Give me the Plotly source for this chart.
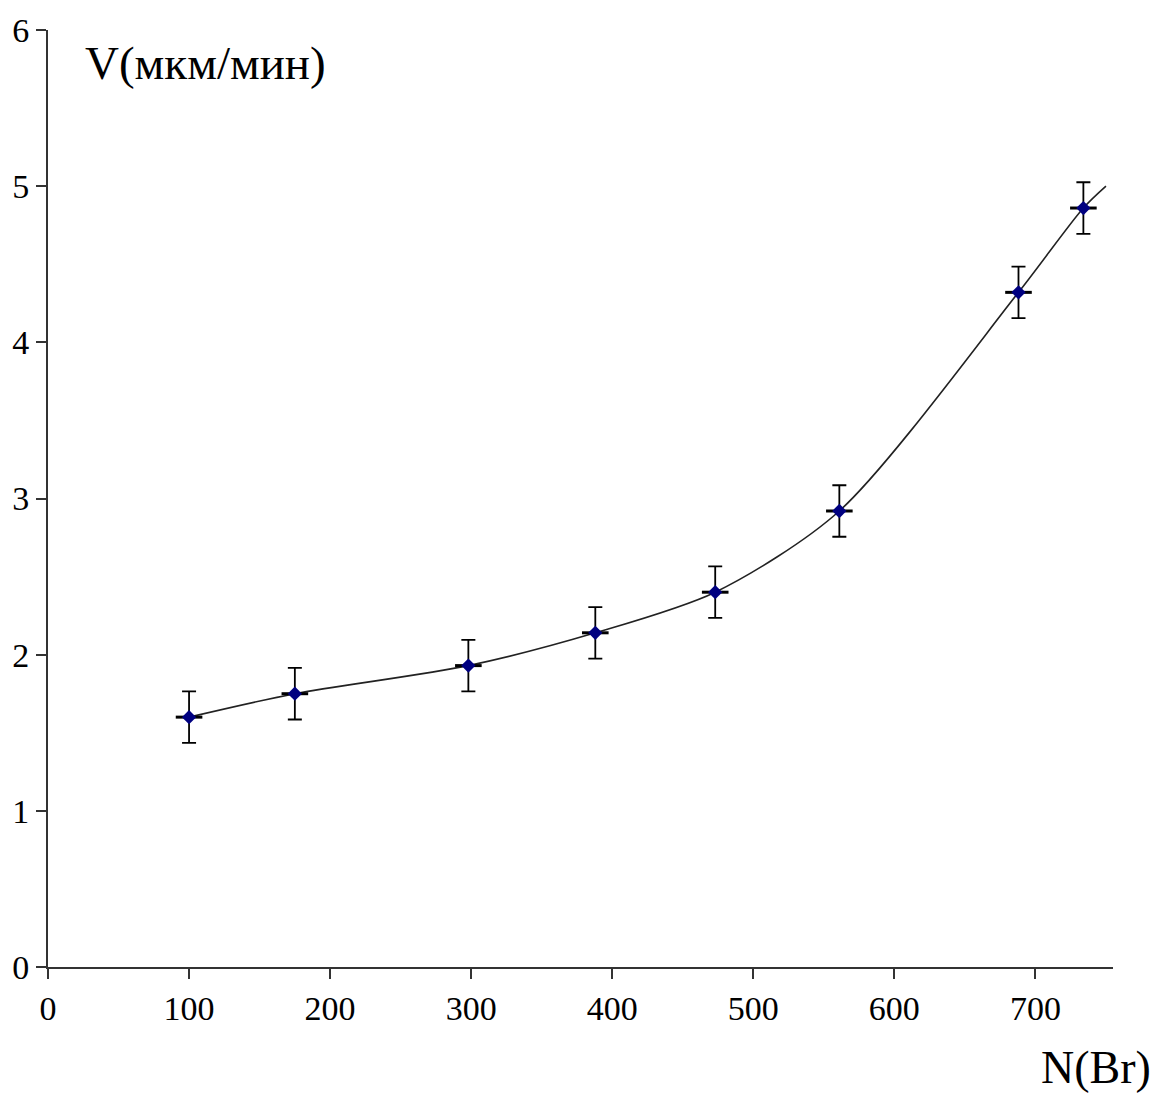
import plotly.graph_objects as go

# Measured deposition rate vs bromine count
n_br = [100, 175, 298, 388, 473, 561, 688, 734]
rate = [1.60, 1.75, 1.93, 2.14, 2.40, 2.92, 4.32, 4.86]
rate_err = [0.165] * len(n_br)

# Smoothed trend curve (data points plus its continuation to N = 750)
curve_n = n_br + [750]
curve_v = rate + [5.00]

x_ticks = [0, 100, 200, 300, 400, 500, 600, 700]
y_ticks = [0, 1, 2, 3, 4, 5, 6]

serif = "Liberation Serif, Times New Roman, serif"
axis_col = "#333333"

fig = go.Figure()

fig.add_trace(go.Scatter(
    x=curve_n, y=curve_v, mode="lines",
    line=dict(color="#222222", width=1.6, shape="spline", smoothing=0.8),
    hoverinfo="skip", showlegend=False,
))

# Horizontal dash through each point
fig.add_trace(go.Scatter(
    x=n_br, y=rate, mode="markers",
    marker=dict(symbol="line-ew", size=19, line=dict(color="black", width=3)),
    showlegend=False,
))

# Points with vertical error bars
fig.add_trace(go.Scatter(
    x=n_br, y=rate, mode="markers",
    marker=dict(symbol="diamond", size=11, color="#000080"),
    error_y=dict(type="data", array=rate_err, visible=True,
                 color="black", thickness=1.8, width=7),
    showlegend=False,
))

fig.update_layout(
    width=1160, height=1095,
    margin=dict(l=47, r=47, t=24, b=128),
    paper_bgcolor="white", plot_bgcolor="white",
    font=dict(family=serif, color="black", size=34),
    xaxis=dict(
        range=[0, 755], tickvals=x_ticks, ticktext=[str(v) for v in x_ticks],
        showgrid=False, zeroline=False,
        showline=True, linecolor=axis_col, linewidth=2,
        ticks="outside", ticklen=10, tickwidth=2, tickcolor=axis_col,
        tickfont=dict(family=serif, size=34),
    ),
    yaxis=dict(
        range=[0, 6], tickvals=y_ticks, ticktext=[str(v) for v in y_ticks],
        showgrid=False, zeroline=False,
        showline=True, linecolor=axis_col, linewidth=2,
        ticks="outside", ticklen=10, tickwidth=2, tickcolor=axis_col,
        tickfont=dict(family=serif, size=34),
    ),
    annotations=[
        dict(text="V(мкм/мин)", xref="paper", yref="paper",
             x=0.0326, y=0.9646, xanchor="left", yanchor="middle",
             showarrow=False, font=dict(family=serif, size=47)),
        dict(text="N(Br)", xref="paper", yref="paper",
             x=1.0375, y=-0.1075, xanchor="right", yanchor="middle",
             showarrow=False, font=dict(family=serif, size=46)),
    ],
)

fig.write_html("out.html")
